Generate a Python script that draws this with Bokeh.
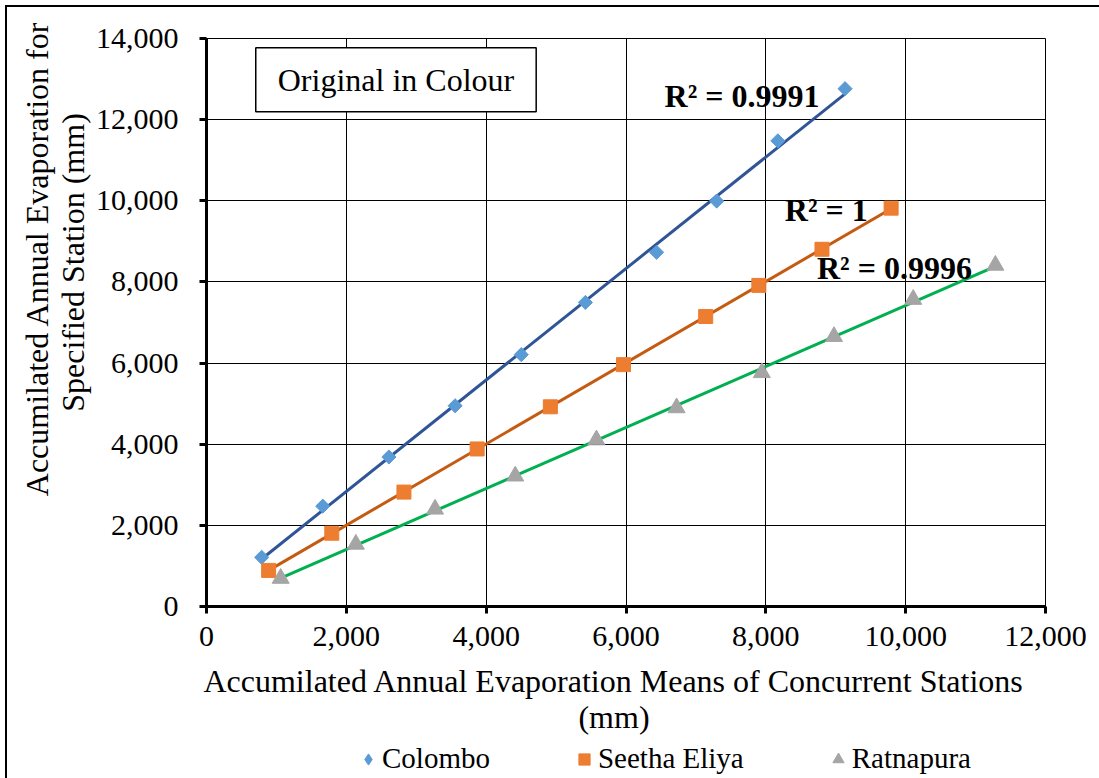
import numpy as np
from bokeh.plotting import figure
from bokeh.layouts import column
from bokeh.models import (Legend, LegendItem, Label, NumeralTickFormatter,
                          FixedTicker, Range1d)
from bokeh.embed import file_html
from bokeh.resources import INLINE

# Accumulated annual evaporation (mm)
colombo_x = [789, 1663, 2609, 3556, 4502, 5419, 6437, 7297, 8172, 9133]
colombo_y = [1212, 2473, 3685, 4947, 6208, 7494, 8731, 9993, 11477, 12763]

seetha_x = [889, 1792, 2824, 3871, 4918, 5964, 7140, 7900, 8803, 9792]
seetha_y = [890, 1806, 2820, 3883, 4922, 5961, 7148, 7915, 8805, 9819]

ratna_x = [1061, 2136, 3269, 4416, 5577, 6724, 7943, 8975, 10108, 11283]
ratna_y = [693, 1534, 2399, 3215, 4106, 4897, 5763, 6654, 7569, 8410]

series_names = ["Colombo", "Seetha Eliya", "Ratnapura"]
r2_labels = ["R\u00b2 = 0.9991", "R\u00b2 = 1", "R\u00b2 = 0.9996"]
r2_pos_x = [6552, 8272, 8731]
r2_pos_y = [12590, 9770, 8335]

x_ticks = [0, 2000, 4000, 6000, 8000, 10000, 12000]
y_ticks = [0, 2000, 4000, 6000, 8000, 10000, 12000, 14000]

FONT = "Liberation Serif"
NB = "\u00a0"  # non-breaking space, used to nudge axis titles off-centre

p = figure(width=1094, height=735, output_backend="svg", toolbar_location=None,
           x_range=Range1d(0, 12000), y_range=Range1d(0, 14000),
           min_border_left=199, min_border_right=56, min_border_top=31,
           min_border_bottom=136)
p.styles = {"border-left": "2px solid #000", "border-top": "2px solid #000"}
p.background_fill_color = "white"
p.border_fill_color = "white"
p.outline_line_color = "black"
p.outline_line_width = 1

for ax in (p.xaxis[0], p.yaxis[0]):
    ax.axis_line_width = 3
    ax.axis_line_color = "black"
    ax.major_tick_line_width = 3
    ax.major_tick_line_color = "black"
    ax.major_tick_out = 7
    ax.major_tick_in = 0
    ax.minor_tick_line_color = None
    ax.major_label_text_font = FONT
    ax.major_label_text_font_size = "30px"
    ax.major_label_text_color = "black"
    ax.axis_label_text_font = FONT
    ax.axis_label_text_font_size = "32px"
    ax.axis_label_text_font_style = "normal"
    ax.axis_label_text_color = "black"
    ax.axis_label_text_line_height = 1.0
    ax.formatter = NumeralTickFormatter(format="0,0")

p.xaxis[0].ticker = FixedTicker(ticks=x_ticks)
p.yaxis[0].ticker = FixedTicker(ticks=y_ticks)
p.xaxis[0].major_label_standoff = 13
p.yaxis[0].major_label_standoff = 21
p.xaxis[0].axis_label = ("Accumilated Annual Evaporation Means of Concurrent Stations" + NB * 3
                         + "\n(mm)" + NB * 3)
p.yaxis[0].axis_label = (NB * 16 + "Accumilated Annual Evaporation for\n"
                         + NB * 16 + "Specified Station  (mm)")
p.xaxis[0].axis_label_standoff = 14
p.yaxis[0].axis_label_standoff = 2

p.xgrid.grid_line_color = "black"
p.ygrid.grid_line_color = "black"
p.xgrid.grid_line_width = 1
p.ygrid.grid_line_width = 1
p.xgrid.ticker = FixedTicker(ticks=x_ticks)
p.ygrid.ticker = FixedTicker(ticks=y_ticks)

data = [(colombo_x, colombo_y), (seetha_x, seetha_y), (ratna_x, ratna_y)]
marker_colors = ["#5B9BD5", "#ED7D31", "#A5A5A5"]
line_colors = ["#2F5597", "#C55A11", "#00B050"]
markers = ["square", "square", "triangle"]
marker_angles = [np.pi / 4, 0, 0]
marker_sizes = [10, 14, 17]

# Linear trendlines from least-squares fits
for (xs, ys), lc in zip(data, line_colors):
    k, b = np.polyfit(xs, ys, 1)
    x0, x1 = min(xs), max(xs)
    p.line([x0, x1], [k * x0 + b, k * x1 + b], line_color=lc, line_width=3)

for (xs, ys), mc, mk, ang, ms in zip(data, marker_colors, markers,
                                     marker_angles, marker_sizes):
    p.scatter(xs, ys, marker=mk, angle=ang, size=ms,
              fill_color=mc, line_color=mc)

for txt, tx, ty in zip(r2_labels, r2_pos_x, r2_pos_y):
    p.add_layout(Label(x=tx, y=ty, text=txt, text_font=FONT,
                       text_font_size="32px", text_font_style="bold",
                       text_color="black", text_baseline="middle",
                       text_align="left"))

p.add_layout(Label(x=2710, y=12985, text="Original in Colour", text_font=FONT,
                   text_font_size="32px", text_color="black",
                   text_align="center", text_baseline="middle",
                   border_line_color="black", border_line_width=1.5,
                   background_fill_color="white", padding=(22, 14)))

# Legend strip underneath the chart
leg = figure(width=1094, height=38, output_backend="svg", toolbar_location=None,
             x_axis_type=None, y_axis_type=None,
             x_range=Range1d(0, 1), y_range=Range1d(0, 1),
             min_border_left=0, min_border_right=0, min_border_top=0,
             min_border_bottom=0)
leg.styles = {"border-left": "2px solid #000"}
leg.outline_line_color = None
leg.background_fill_color = "white"
leg.border_fill_color = "white"

# key glyphs (the key ignores marker rotation, so the diamond is explicit)
legend_markers = ["diamond", "square", "triangle"]
leg_renderers = []
for mc, mk in zip(marker_colors, legend_markers):
    # a single point kept outside the visible range, used only for the key
    r = leg.scatter(x=[-5], y=[-5], marker=mk, size=12,
                    fill_color=mc, line_color=mc)
    leg_renderers.append(r)

legend = Legend(items=[LegendItem(label=n, renderers=[r])
                       for n, r in zip(series_names, leg_renderers)],
                orientation="horizontal", location=(148, 3))
legend.label_text_font = FONT
legend.label_text_font_size = "29px"
legend.label_text_color = "black"
legend.glyph_width = 28
legend.glyph_height = 28
legend.label_standoff = 0
legend.spacing = 80
legend.border_line_color = None
legend.background_fill_alpha = 0
legend.padding = 0
legend.margin = 0
leg.add_layout(legend)

layout = column(p, leg, spacing=0)
layout.margin = (5, 0, 0, 5)

open("out.html", "w").write(file_html(layout, INLINE))
